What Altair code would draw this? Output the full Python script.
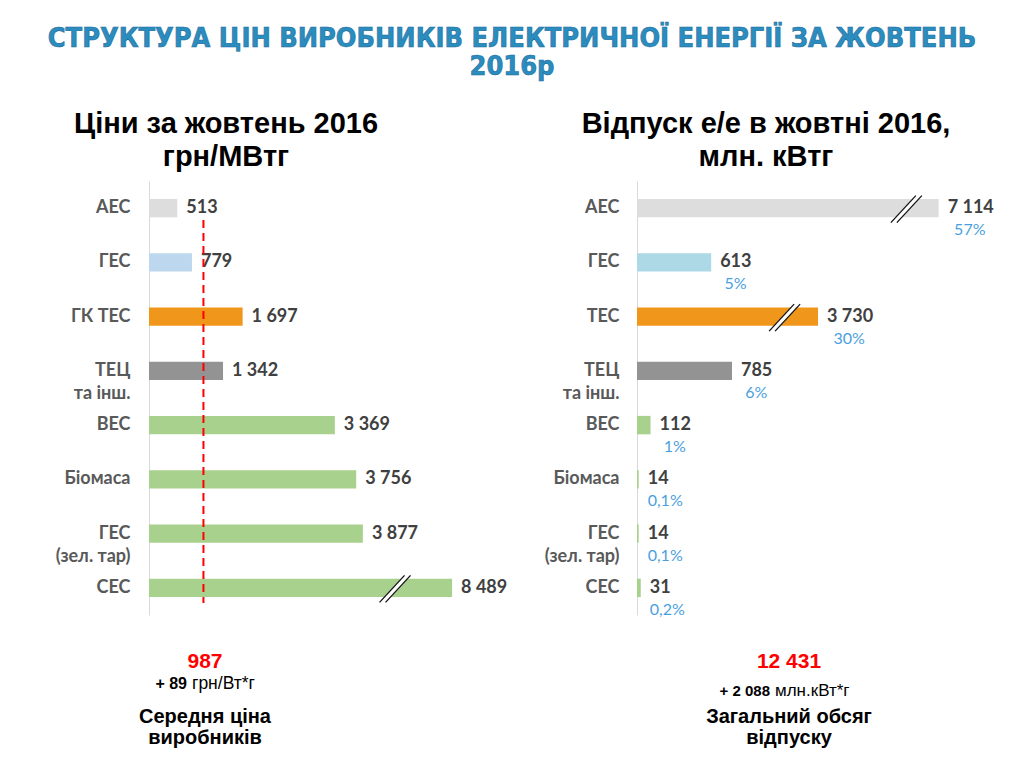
import altair as alt
import pandas as pd

# ---------------- data ----------------
price_categories = ["АЕС", "ГЕС", "ГК ТЕС", "ТЕЦ|та інш.", "ВЕС", "Біомаса", "ГЕС|(зел. тар)", "СЕС"]
price_values = [513, 779, 1697, 1342, 3369, 3756, 3877, 8489]
price_colors = ["#DDDDDD", "#BDD7EE", "#F0961A", "#939393", "#A9D18E", "#A9D18E", "#A9D18E", "#A9D18E"]
price_cut = {"СЕС": 5494}        # broken axis: bar drawn only up to this value
price_break_at = {"СЕС": 4460}   # where the break symbol sits
avg_price = 987
avg_price_change = 89

volume_categories = ["АЕС", "ГЕС", "ТЕС", "ТЕЦ|та інш.", "ВЕС", "Біомаса", "ГЕС|(зел. тар)", "СЕС"]
volume_values = [7114, 613, 3730, 785, 112, 14, 14, 31]
volume_shares = ["57%", "5%", "30%", "6%", "1%", "0,1%", "0,1%", "0,2%"]
volume_colors = ["#DDDDDD", "#ADD8E6", "#F0961A", "#939393", "#A9D18E", "#A9D18E", "#A9D18E", "#A9D18E"]
volume_cut = {"АЕС": 2493, "ТЕС": 1496}
volume_break_at = {"АЕС": 2226, "ТЕС": 1220}
total_volume = 12431
total_volume_change = 2088

main_title = ["СТРУКТУРА ЦІН ВИРОБНИКІВ  ЕЛЕКТРИЧНОЇ ЕНЕРГІЇ ЗА ЖОВТЕНЬ", "2016р"]
left_title = ["Ціни за жовтень 2016", "грн/МВтг"]
right_title = ["Відпуск е/е в жовтні 2016,", "млн. кВтг"]

# ---------------- layout constants ----------------
H = 434
W1, D1 = 331, 6000
W2, D2 = 363, 3000
TITLE_FONT = "DejaVu Sans Condensed, Liberation Sans, sans-serif"


def fmt(v):
    return f"{v:,}".replace(",", " ")


def est_w_value(s):
    return sum(3.5 if c == " " else 10.2 for c in s)


def est_w_pct(s):
    return sum(4.0 if c == "," else (13.0 if c == "%" else 9.0) for c in s)


def make_df(cats, vals, cuts):
    shown = [min(v, cuts.get(c, v)) for c, v in zip(cats, vals)]
    return pd.DataFrame({"cat": cats, "value": vals, "shown": shown,
                         "label": [fmt(v) for v in vals]})


pdf = make_df(price_categories, price_values, price_cut)
vdf = make_df(volume_categories, volume_values, volume_cut)
pxu2 = W2 / D2
vdf["share"] = volume_shares
vdf["pct_x"] = [s + (9 + max(est_w_value(l), est_w_pct(p)) / 2) / pxu2
                for s, l, p in zip(vdf["shown"], vdf["label"], vdf["share"])]

pbrk = pd.DataFrame({"cat": list(price_break_at.keys()), "brk": list(price_break_at.values())})
vbrk = pd.DataFrame({"cat": list(volume_break_at.keys()), "brk": list(volume_break_at.values())})


def yenc(cats, pad):
    return alt.Y("cat:N", sort=cats,
                 scale=alt.Scale(domain=cats, paddingInner=0.66, paddingOuter=0.33),
                 axis=alt.Axis(title=None, ticks=False, grid=False, domainColor="#D9D9D9",
                               domainWidth=1, labelExpr="split(datum.value, '|')",
                               labelFont="Lato", labelFontWeight="bold", labelFontSize=18,
                               labelColor="#595959", labelPadding=pad, labelLineHeight=23,
                               labelLimit=200))


def xenc(field, dmax):
    return alt.X(f"{field}:Q", scale=alt.Scale(domain=[0, dmax]), axis=None)


def txt(text, x, y, size, weight="bold", color="black", align="center",
        font="Liberation Sans", **kw):
    return alt.Chart(pd.DataFrame({"t": [text]})).mark_text(
        align=align, baseline="alphabetic", fontSize=size, fontWeight=weight,
        color=color, font=font, **kw).encode(x=alt.value(x), y=alt.value(y), text="t:N")


def breaks(df, cats, dmax):
    y = alt.Y("cat:N", sort=cats, scale=alt.Scale(domain=cats, paddingInner=0.66, paddingOuter=0.33))
    y2 = alt.Y2("cat:N")
    x = xenc("brk", dmax)
    x2 = alt.X2("brk:Q")
    base = alt.Chart(df)
    white = base.mark_rule(color="white", strokeWidth=5, xOffset=-10, x2Offset=10,
                           yOffset=12, y2Offset=-10).encode(x=x, x2=x2, y=y, y2=y2)
    la = base.mark_rule(color="#111111", strokeWidth=1.3, xOffset=-15.5, x2Offset=9.5,
                        yOffset=14.5, y2Offset=-12.5).encode(x=x, x2=x2, y=y, y2=y2)
    lb = base.mark_rule(color="#111111", strokeWidth=1.3, xOffset=-9.5, x2Offset=15.5,
                        yOffset=14.5, y2Offset=-12.5).encode(x=x, x2=x2, y=y, y2=y2)
    return [white, la, lb]


def value_text(df, y, dmax):
    return alt.Chart(df).mark_text(align="left", baseline="middle", dx=9, font="Lato",
                                   fontWeight="bold", fontSize=18, color="#404040").encode(
        y=y, x=xenc("shown", dmax), text="label:N")


# ---------------- left panel ----------------
yl = yenc(price_categories, 19)
bars_l = alt.Chart(pdf).mark_bar().encode(
    y=yl, x=xenc("shown", D1),
    color=alt.Color("cat:N", scale=alt.Scale(domain=price_categories, range=price_colors), legend=None))
vals_l = value_text(pdf, yl, D1)
avg_rule = alt.Chart(pd.DataFrame({"avg": [avg_price]})).mark_rule(
    color="#FF0000", strokeWidth=2, strokeDash=[8, 5]).encode(
    x=xenc("avg", D1), y=alt.value(39), y2=alt.value(422))
anchor = alt.Chart(pd.DataFrame({"a": [0]})).mark_rule(color="white", strokeWidth=1).encode(
    x=alt.value(-140.5), y=alt.value(-172.5), y2=alt.value(-171.5))

left_layers = [anchor, bars_l] + breaks(pbrk, price_categories, D1) + [vals_l, avg_rule,
    txt(main_title[0], 363, -134, 27, color="#2B8CBE", font=TITLE_FONT,
        stroke="#1F6F9F", strokeWidth=0.6),
    txt(main_title[1], 363, -106, 27, color="#2B8CBE", font=TITLE_FONT,
        stroke="#1F6F9F", strokeWidth=0.6),
    txt(left_title[0], 77, -48, 29),
    txt(left_title[1], 77, -15, 29),
    txt(fmt(avg_price), 56, 487, 21, color="#FF0000"),
    txt(f"+ {fmt(avg_price_change)}", 38, 508, 16, align="right"),
    txt("грн/Вт*г", 43, 508, 17.5, weight="normal", align="left"),
    txt("Середня ціна", 56, 542, 20),
    txt("виробників", 56, 563, 20),
]
left = alt.layer(*left_layers).properties(width=W1, height=H)

# ---------------- right panel ----------------
yr = yenc(volume_categories, 18)
bars_r = alt.Chart(vdf).mark_bar().encode(
    y=yr, x=xenc("shown", D2),
    color=alt.Color("cat:N", scale=alt.Scale(domain=volume_categories, range=volume_colors), legend=None))
vals_r = value_text(vdf, yr, D2)
pct_r = alt.Chart(vdf).mark_text(align="center", baseline="middle", dy=22, font="Lato",
                                 fontSize=16, color="#4A9FE0").encode(
    y=yr, x=xenc("pct_x", D2), text="share:N")

right_layers = [bars_r] + breaks(vbrk, volume_categories, D2) + [vals_r, pct_r,
    txt(right_title[0], 129, -48, 29),
    txt(right_title[1], 129, -15, 29),
    txt(fmt(total_volume), 152, 487, 21, color="#FF0000"),
    txt(f"+ {fmt(total_volume_change)}", 133, 515, 15, align="right"),
    txt("млн.кВт*г", 138, 515, 17, weight="normal", align="left"),
    txt("Загальний обсяг", 152, 542, 20),
    txt("відпуску", 152, 563, 20),
]
right = alt.layer(*right_layers).properties(width=W2, height=H)

chart = alt.hconcat(left, right, spacing=157, bounds="flush").resolve_scale(
    color="independent").properties(padding=0).configure_view(stroke=None)

chart.save("out.html", embed_options={"renderer": "svg", "actions": False})
